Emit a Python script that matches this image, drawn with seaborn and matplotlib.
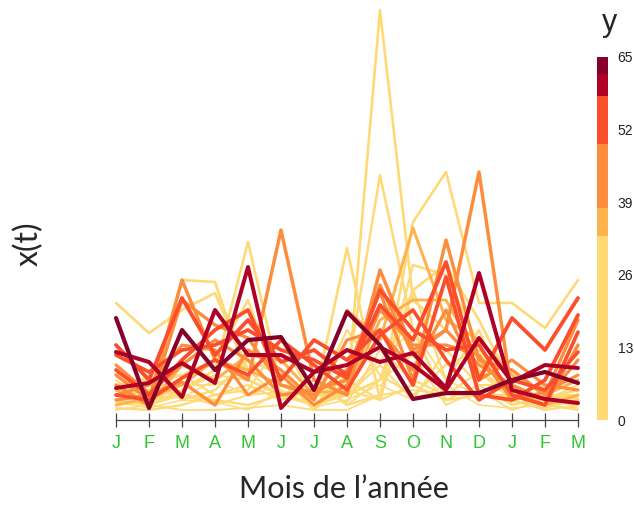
import pandas as pd
import matplotlib
matplotlib.use('Agg')
import matplotlib.pyplot as plt
import seaborn as sns
from matplotlib.colors import ListedColormap, BoundaryNorm
from matplotlib.cm import ScalarMappable

# mois (x) et valeur y associee a chaque courbe
months = ['J', 'F', 'M', 'A', 'M', 'J', 'J', 'A', 'S', 'O', 'N', 'D', 'J', 'F', 'M']
y_vals = [64, 61, 59, 56, 55, 53, 51, 47, 45, 43, 41, 39, 36, 34,
          30, 28, 27, 25, 23, 21, 19, 17, 15, 13, 10, 8, 5, 3]

# x(t) pour chaque courbe (meme ordre que y_vals)
curves = [
    [10.2, 1.2, 9.0, 5.0, 8.0, 8.3, 3.0, 10.8, 7.5, 2.1, 2.7, 2.7, 4.0, 4.8, 3.7],
    [6.8, 5.8, 2.3, 11.0, 6.5, 6.5, 4.8, 7.0, 5.8, 6.7, 3.2, 14.7, 3.0, 2.1, 1.7],
    [3.2, 3.7, 5.7, 3.7, 15.3, 1.2, 4.8, 5.5, 7.3, 5.5, 3.0, 8.2, 3.8, 5.5, 5.2],
    [7.5, 4.0, 12.2, 6.5, 10.0, 5.8, 7.0, 4.5, 11.5, 8.0, 15.8, 4.0, 10.2, 7.0, 12.2],
    [5.0, 2.5, 6.0, 9.0, 11.0, 4.0, 8.0, 6.0, 9.0, 3.5, 14.3, 2.5, 2.0, 4.0, 10.5],
    [6.5, 4.8, 7.0, 7.5, 9.0, 7.0, 6.0, 4.2, 13.0, 9.0, 7.0, 7.5, 2.5, 1.5, 8.8],
    [2.5, 2.0, 4.2, 6.0, 4.5, 8.0, 5.5, 3.0, 8.5, 11.0, 6.0, 2.0, 4.0, 3.0, 6.8],
    [4.5, 2.0, 14.0, 6.0, 4.0, 19.0, 4.0, 2.5, 15.0, 7.0, 9.0, 24.8, 2.5, 1.5, 7.5],
    [3.5, 1.5, 12.0, 9.5, 8.2, 3.5, 2.5, 5.0, 12.8, 4.0, 18.0, 6.0, 5.0, 2.5, 10.0],
    [2.0, 2.5, 3.8, 1.5, 7.0, 5.0, 2.0, 8.0, 9.0, 5.0, 11.0, 4.0, 6.0, 3.5, 3.0],
    [5.5, 2.7, 5.5, 8.0, 6.0, 2.5, 3.0, 4.0, 13.5, 6.5, 9.0, 5.5, 3.5, 2.0, 6.0],
    [2.5, 3.5, 7.5, 7.0, 2.5, 4.5, 1.5, 3.5, 11.0, 7.5, 7.5, 6.5, 2.0, 2.8, 4.5],
    [3.0, 1.5, 5.5, 4.0, 6.5, 6.0, 2.5, 11.0, 8.0, 19.2, 10.0, 8.0, 4.5, 2.5, 4.0],
    [1.5, 2.2, 3.5, 6.0, 5.0, 3.5, 2.8, 2.8, 10.0, 12.0, 12.0, 6.0, 3.0, 1.5, 2.5],
    [11.7, 8.7, 11.0, 12.7, 5.0, 3.5, 2.5, 2.5, 4.0, 13.0, 15.5, 10.0, 3.5, 2.0, 2.5],
    [2.5, 2.0, 14.0, 13.8, 4.0, 2.5, 1.5, 2.5, 41.0, 12.0, 9.0, 5.0, 2.5, 2.0, 2.2],
    [2.0, 1.5, 3.0, 5.0, 17.8, 3.5, 2.0, 17.2, 2.0, 19.8, 24.8, 11.7, 11.7, 9.2, 14.0],
    [3.5, 4.0, 4.5, 6.0, 12.0, 2.5, 1.5, 4.5, 24.5, 9.0, 2.0, 2.5, 2.5, 2.0, 1.5],
    [1.5, 2.0, 2.5, 2.0, 1.5, 2.5, 4.0, 1.5, 2.5, 15.5, 14.5, 7.5, 2.5, 1.5, 2.0],
    [2.5, 4.5, 2.0, 3.0, 6.0, 4.5, 1.0, 4.0, 2.0, 13.0, 4.0, 9.0, 1.5, 2.2, 3.0],
    [1.2, 1.0, 1.5, 2.5, 3.5, 2.0, 3.0, 1.8, 7.0, 4.0, 2.5, 4.8, 2.0, 1.0, 1.5],
    [3.0, 3.5, 4.5, 2.5, 3.0, 8.0, 2.0, 9.0, 4.5, 2.5, 5.5, 7.0, 2.5, 3.5, 4.0],
    [2.0, 2.2, 3.0, 4.5, 4.0, 2.5, 2.5, 2.5, 5.5, 2.0, 7.0, 3.5, 1.5, 2.5, 2.5],
    [4.0, 1.5, 2.5, 1.5, 2.5, 2.8, 1.5, 3.0, 2.0, 3.5, 2.0, 3.5, 3.5, 1.5, 1.0],
    [2.5, 3.0, 3.5, 3.5, 5.0, 2.0, 4.0, 1.5, 4.0, 6.5, 1.5, 3.0, 1.0, 2.0, 3.5],
    [1.0, 1.5, 1.0, 1.0, 1.2, 1.5, 1.0, 1.0, 2.5, 3.0, 2.5, 2.5, 2.0, 1.2, 2.0],
    [3.5, 2.5, 2.2, 4.0, 2.5, 3.5, 2.5, 2.8, 6.0, 9.0, 4.0, 2.5, 2.2, 2.0, 3.0],
    [1.8, 1.2, 2.0, 1.8, 1.0, 3.0, 1.3, 2.0, 3.5, 2.0, 3.5, 1.5, 1.2, 1.5, 1.2],
]

# echelle de couleur par paliers (comme la legende)
bounds = [0, 33, 38, 49.5, 58, 62, 65]
band_colors = ['#fed976', '#feb24c', '#fd8d3c', '#fc4e2a', '#b10026', '#86002a']
cticks = [0, 13, 26, 39, 52, 65]

rows = []
for k, (yv, c) in enumerate(zip(y_vals, curves)):
    for t, v in enumerate(c):
        rows.append({'curve': k, 't': t, 'x': v, 'y': yv})
df = pd.DataFrame(rows)

cmap = ListedColormap(band_colors)
norm = BoundaryNorm(bounds, cmap.N)
pal = {yv: cmap(norm(yv)) for yv in y_vals}

sns.set_style('white')
plt.rcParams['font.family'] = ['Liberation Sans', 'DejaVu Sans']

fig = plt.figure(figsize=(6.34, 5.07), dpi=100)
ax = fig.add_axes([106.1 / 634, 87 / 507, 481.8 / 634, 420 / 507])

sns.lineplot(data=df, x='t', y='x', hue='y', palette=pal, units='curve',
             estimator=None, size='y', sizes=(1.1, 3.0), sort=False,
             legend=False, ax=ax)

ax.set_xlim(-0.3, 14.3)
ax.set_ylim(0, 42)
ax.set_xticks(range(len(months)))
ax.set_xticklabels(months)
ax.set_yticks([])
ax.set_xlabel('')
ax.set_ylabel('')
for s in ['top', 'right', 'left']:
    ax.spines[s].set_visible(False)
ax.spines['bottom'].set_bounds(0, 14)
ax.spines['bottom'].set_color('#444444')
ax.spines['bottom'].set_linewidth(0.9)
ax.tick_params(axis='x', bottom=True, direction='inout', length=10, width=0.9,
               color='#444444', labelcolor='#2fc52f', labelsize=13, pad=6)
ax.patch.set_alpha(0)

fig.text(344 / 634, 1 - 489 / 507, "Mois de l\u2019année", ha='center', va='center',
         fontsize=22, family=['Lato', 'DejaVu Sans'])
fig.text(29 / 634, 1 - 244 / 507, 'x(t)', ha='center', va='center', rotation=90,
         fontsize=23, family=['Lato', 'DejaVu Sans'])

# barre de couleur
cax = fig.add_axes([597 / 634, 87 / 507, 11 / 634, 363 / 507])
cb = fig.colorbar(ScalarMappable(norm=norm, cmap=cmap), cax=cax, ticks=cticks,
                  spacing='proportional')
cb.outline.set_visible(False)
cb.ax.minorticks_off()
cb.ax.tick_params(length=0, labelsize=10, pad=7, labelcolor='#222222')
fig.text(610 / 634, 1 - 31 / 507, 'y', ha='center', va='baseline', fontsize=22)

fig.savefig('out.png', dpi=100, facecolor='white')
